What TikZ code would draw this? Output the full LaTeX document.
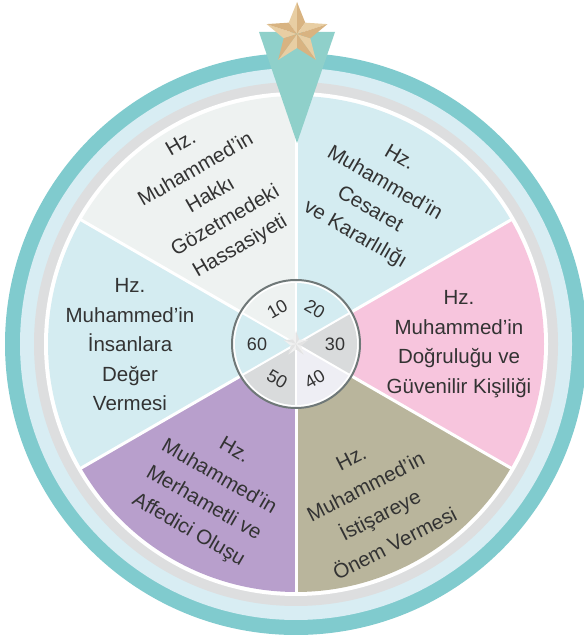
\documentclass[tikz,border=0pt]{standalone}
\usepackage{fontspec}
\setmainfont{Liberation Sans}
\usetikzlibrary{calc}
\definecolor{ringteal}{HTML}{80CBCE}
\definecolor{ringblue}{HTML}{D8EDF3}
\definecolor{ringgray}{HTML}{DDDEDF}
\definecolor{secblue}{HTML}{D4ECF1}
\definecolor{secgray}{HTML}{EEF2F1}
\definecolor{secpink}{HTML}{F7C5DD}
\definecolor{seckhaki}{HTML}{B9B59C}
\definecolor{secpurple}{HTML}{B89FCC}
\definecolor{innergray}{HTML}{D9DBDC}
\definecolor{innerlav}{HTML}{EEEEF4}
\definecolor{innerborder}{HTML}{6F7878}
\definecolor{pointer}{HTML}{8FD0CA}
\definecolor{starlight}{HTML}{E8CEA3}
\definecolor{stardark}{HTML}{D8B381}
\definecolor{txt}{HTML}{333333}
\begin{document}
\begin{tikzpicture}[x=1pt,y=1pt,
  lbl/.style={align=center,text=txt,inner sep=0pt,font=\fontsize{20.5}{29.5}\selectfont},
  num/.style={text=txt,inner sep=0pt,font=\fontsize{18}{20}\selectfont}]
\useasboundingbox (0,0) rectangle (583,639);
\coordinate (W) at (296,295);
% rings
\fill[ringteal] (W) circle (291);
\fill[ringblue] (W) circle (276);
\fill[ringgray] (W) circle (262);
\fill[white] (W) circle (252);
% sectors
\fill[secgray]   (W) -- ++(90:248)  arc[start angle=90,end angle=150,radius=248] -- cycle;
\fill[secblue]   (W) -- ++(150:248) arc[start angle=150,end angle=210,radius=248] -- cycle;
\fill[secpurple] (W) -- ++(210:248) arc[start angle=210,end angle=270,radius=248] -- cycle;
\fill[seckhaki]  (W) -- ++(270:248) arc[start angle=270,end angle=330,radius=248] -- cycle;
\fill[secpink]   (W) -- ++(-30:248) arc[start angle=-30,end angle=30,radius=248] -- cycle;
\fill[secblue]   (W) -- ++(30:248)  arc[start angle=30,end angle=90,radius=248] -- cycle;
\foreach \a in {30,90,150,210,270,330} \draw[white,line width=3] (W) -- ++(\a:250);
% pointer
\coordinate (P1) at (259,607);
\coordinate (P2) at (335,607);
\coordinate (P3) at (297,496);
\fill[pointer] (P1) -- (P2) -- (P3) -- cycle;
% top star
\coordinate (S) at (297,605);
\foreach \k in {0,...,4}{
  \pgfmathsetmacro{\t}{90+72*\k}
  \fill[starlight] (S) -- ($(S)+(\t:32)$) -- ($(S)+(\t+36:14)$) -- cycle;
  \fill[stardark] (S) -- ($(S)+(\t:32)$) -- ($(S)+(\t-36:14)$) -- cycle;
}
% sector texts
\node[lbl,rotate=30]  (tA) at (211,443) {Hz.\\Muhammed’in\\Hakkı\\Gözetmedeki\\Hassasiyeti};
\node[lbl,rotate=-30] (tB) at (377,442) {Hz.\\Muhammed’in\\Cesaret\\ve Kararlılığı};
\node[lbl]            (tC) at (459,295) {Hz.\\Muhammed’in\\Doğruluğu ve\\Güvenilir Kişiliği};
\node[lbl,rotate=27,font=\fontsize{20.5}{32}\selectfont]  (tD) at (373,138) {Hz.\\Muhammed’in\\İstişareye\\Önem Vermesi};
\node[lbl,rotate=-30,font=\fontsize{20.5}{30.5}\selectfont] (tE) at (211,148) {Hz.\\Muhammed’in\\Merhametli ve\\Affedici Oluşu};
\node[lbl]            (tF) at (130,294) {Hz.\\Muhammed’in\\İnsanlara\\Değer\\Vermesi};
% inner dial
\fill[white] (W) circle (64);
\fill[secgray]   (W) -- ++(90:61)  arc[start angle=90,end angle=150,radius=61] -- cycle;
\fill[secblue]   (W) -- ++(150:61) arc[start angle=150,end angle=210,radius=61] -- cycle;
\fill[innergray] (W) -- ++(210:61) arc[start angle=210,end angle=270,radius=61] -- cycle;
\fill[innerlav]  (W) -- ++(270:61) arc[start angle=270,end angle=330,radius=61] -- cycle;
\fill[innergray] (W) -- ++(-30:61) arc[start angle=-30,end angle=30,radius=61] -- cycle;
\fill[secblue]   (W) -- ++(30:61)  arc[start angle=30,end angle=90,radius=61] -- cycle;
\foreach \a in {30,90,150,210,270,330} \draw[white,line width=2] (W) -- ++(\a:62);
\draw[innerborder,line width=2] (W) circle (64);
\foreach \k in {0,...,4}{
  \pgfmathsetmacro{\t}{90+72*\k}
  \fill[gray!12] (W) -- ($(W)+(\t:13)$) -- ($(W)+(\t+36:5.5)$) -- cycle;
  \fill[gray!22] (W) -- ($(W)+(\t:13)$) -- ($(W)+(\t-36:5.5)$) -- cycle;
}
\node[num,rotate=30]  (n10) at ($(W)+(118:40)$) {10};
\node[num,rotate=-30] (n20) at ($(W)+(62:40)$) {20};
\node[num]            (n30) at ($(W)+(0:39)$) {30};
\node[num,rotate=30]  (n40) at ($(W)+(-62:40)$) {40};
\node[num,rotate=-30] (n50) at ($(W)+(-118:40)$) {50};
\node[num]            (n60) at ($(W)+(180:39)$) {60};
\end{tikzpicture}
\end{document}
